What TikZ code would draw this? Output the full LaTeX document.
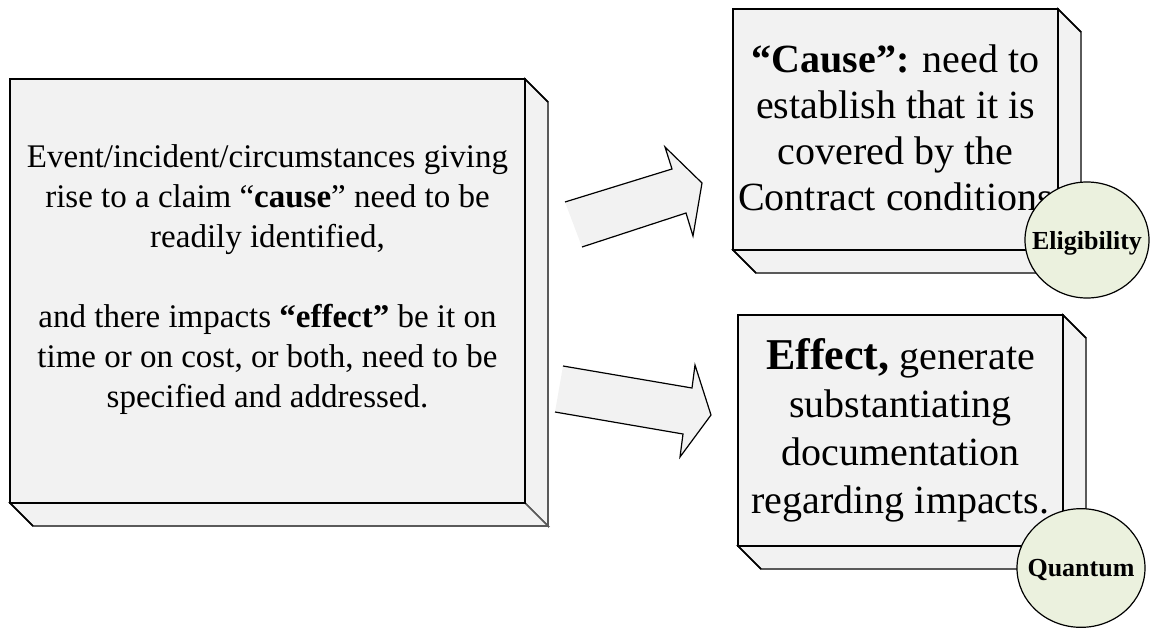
\documentclass[tikz,border=0pt]{standalone}
\usepackage{fontspec}
\setmainfont{Liberation Serif}
\definecolor{boxgray}{HTML}{F2F2F2}
\definecolor{edgegray}{HTML}{5A5A5A}
\definecolor{badgegreen}{HTML}{EBF1DE}
\tikzset{
  frontface/.style={fill=boxgray, draw=black, line width=1.1pt},
  bevelface/.style={fill=boxgray, draw=edgegray, line width=1.3pt, line join=miter},
  arrowfill/.style={fill=boxgray, draw=none},
  arrowline/.style={draw=black, line width=0.9pt, line join=miter},
  badge/.style={fill=badgegreen, draw=black, line width=0.9pt},
  boxtext/.style={align=center, inner sep=0pt},
}
% extruded box: front face (x1,y1)-(x2,y2), depth d towards lower right
\newcommand\bevelbox[5]{%
  \filldraw[bevelface] (#3,#2) -- (#3+#5,#2+#5) -- (#3+#5,#4+#5) -- (#3,#4) -- cycle;
  \filldraw[bevelface] (#1,#4) -- (#3,#4) -- (#3+#5,#4+#5) -- (#1+#5,#4+#5) -- cycle;
  \draw[black, line width=1.1pt] (#3,#2) -- (#3+#5,#2+#5);
  \draw[black, line width=1.1pt] (#1,#4) -- (#1+#5,#4+#5);
  \filldraw[frontface] (#1,#2) rectangle (#3,#4);
}
\begin{document}
\begin{tikzpicture}[x=0.75pt,y=-0.75pt]
\useasboundingbox (0,0) rectangle (1153,628);

% the three boxes
\bevelbox{10}{79}{525}{503}{23}
\bevelbox{733}{9}{1058}{250}{23}
\bevelbox{738}{315}{1063}{546}{23}

% block arrows (tail end left open)
\fill[arrowfill] (565,202) -- (672,169) -- (665,147) -- (702,183) -- (693,236) -- (686,213) -- (582,247) -- cycle;
\draw[arrowline] (565,202) -- (672,169) -- (665,147) -- (702,183) -- (693,236) -- (686,213) -- (582,247);
\fill[arrowfill] (563,366) -- (692,388) -- (695,365) -- (711,415) -- (680,457) -- (683,434) -- (555,412) -- cycle;
\draw[arrowline] (563,366) -- (692,388) -- (695,365) -- (711,415) -- (680,457) -- (683,434) -- (555,412);

% box texts
\node[boxtext, font=\fontsize{24.75}{30}\selectfont] (claim) at (267.5,280)
  {Event/incident/circumstances giving\\
   rise to a claim ``\textbf{cause}'' need to be\\
   readily identified,\\[30pt]
   and there impacts \textbf{``effect''} be it on\\
   time or on cost, or both, need to be\\
   specified and addressed.};
\node[boxtext, font=\fontsize{30}{34.5}\selectfont] (cause) at (895.5,128)
  {\textbf{``Cause'':} need to\\
   establish that it is\\
   covered by the\\
   Contract conditions};
\node[boxtext, font=\fontsize{30}{36}\selectfont] (effect) at (900.5,430)
  {{\fontsize{33}{36}\selectfont\textbf{Effect,}} generate\\
   substantiating\\
   documentation\\
   regarding impacts.};

% badges
\draw[badge] (1087,240) ellipse [x radius=46.5pt, y radius=43.5pt];
\node[font=\fontsize{19.5}{22}\selectfont\bfseries] (eligibility) at (1087,243) {Eligibility};
\draw[badge] (1081,568) ellipse [x radius=48pt, y radius=44.5pt];
\node[font=\fontsize{19.5}{22}\selectfont\bfseries] (quantum) at (1081,570) {Quantum};
\end{tikzpicture}
\end{document}
